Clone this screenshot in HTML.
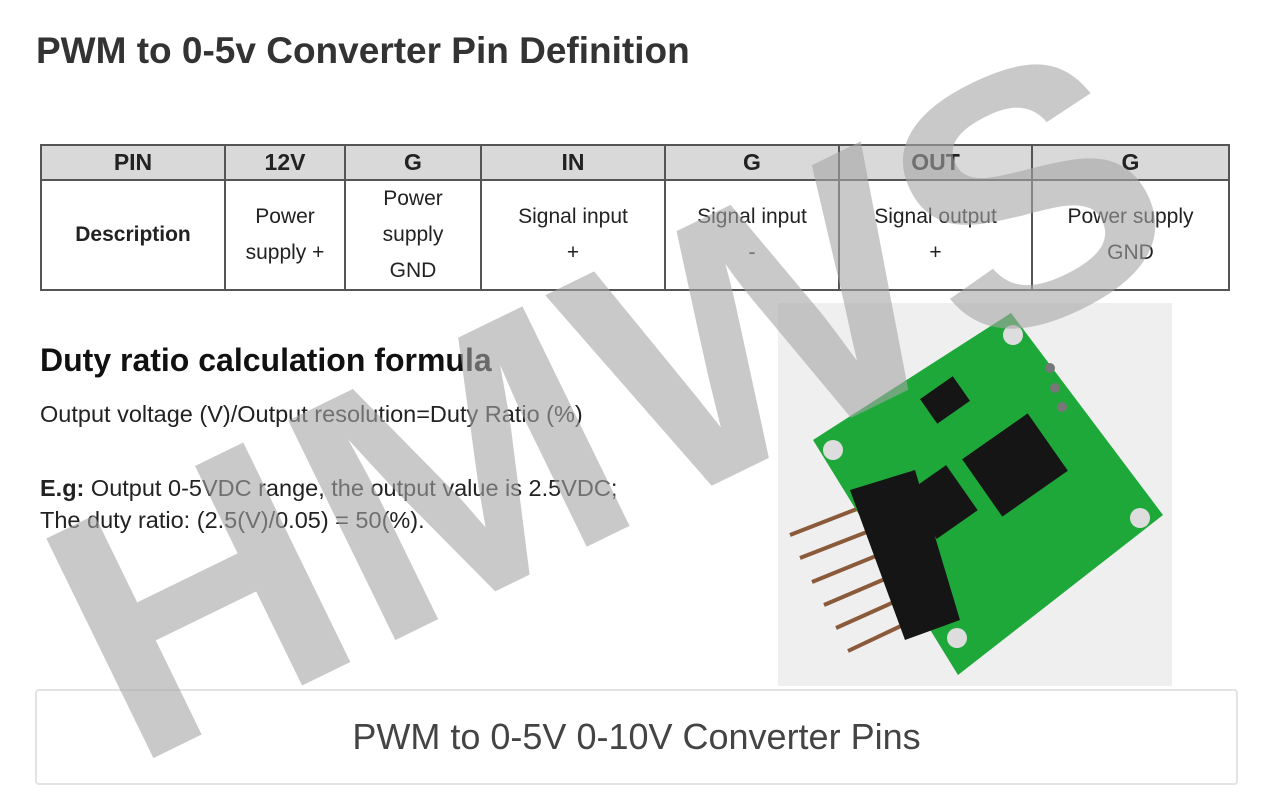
<!DOCTYPE html>
<html><head><meta charset="utf-8"><style>
body{margin:0;width:1269px;height:802px;background:#fff;position:relative;overflow:hidden;font-family:"Liberation Sans",sans-serif;}
.abs{position:absolute;}
h1{position:absolute;left:36px;top:30px;margin:0;font-size:37px;font-weight:bold;color:#333;}
table{position:absolute;left:40px;top:144px;border-collapse:collapse;width:1190px;}
td,th{border:2px solid #555;text-align:center;font-size:21px;color:#222;padding:0;}
th{background:#d9d9d9;height:33px;font-size:23px;}
td{height:104px;line-height:36px;}
</style></head><body>
<h1>PWM to 0-5v Converter Pin Definition</h1>
<table>
<tr><th style="width:182px">PIN</th><th style="width:118px">12V</th><th style="width:134px">G</th><th style="width:182px">IN</th><th style="width:172px">G</th><th style="width:191px">OUT</th><th>G</th></tr>
<tr><td style="font-weight:bold">Description</td><td>Power<br>supply +</td><td>Power<br>supply<br>GND</td><td>Signal input<br>+</td><td>Signal input<br>-</td><td>Signal output<br>+</td><td>Power supply<br>GND</td></tr>
</table>
<div class="abs" style="left:40px;top:342px;font-size:32px;font-weight:bold;color:#111">Duty ratio calculation formula</div>
<div class="abs" style="left:40px;top:401px;font-size:23.5px;color:#222">Output voltage (V)/Output resolution=Duty Ratio (%)</div>
<div class="abs" style="left:40px;top:472px;font-size:23.5px;color:#222;line-height:32px"><b>E.g:</b> Output 0-5VDC range, the output value is 2.5VDC;<br>The duty ratio: (2.5(V)/0.05) = 50(%).</div>
<svg class="abs" style="left:778px;top:303px" width="394" height="383" viewBox="778 303 394 383">
<rect x="778" y="303" width="394" height="383" fill="#efefef"/>
<g stroke="#8a5a3a" stroke-width="4">
<line x1="880" y1="500" x2="790" y2="535"/><line x1="890" y1="523" x2="800" y2="558"/><line x1="898" y1="547" x2="812" y2="582"/><line x1="906" y1="570" x2="824" y2="605"/><line x1="914" y1="593" x2="836" y2="628"/><line x1="922" y1="616" x2="848" y2="651"/>
</g>
<polygon points="1011,313 1163,515 958,675 813,440" fill="#1fa83a"/>
<polygon points="850,490 915,470 960,620 905,640" fill="#151515"/>
<rect x="975" y="430" width="80" height="70" fill="#151515" transform="rotate(-35 1015 465)"/>
<rect x="915" y="475" width="50" height="55" fill="#151515" transform="rotate(-35 940 500)"/>
<rect x="925" y="385" width="40" height="30" fill="#151515" transform="rotate(-35 945 400)"/>
<g fill="#ddd"><circle cx="1013" cy="335" r="10"/><circle cx="833" cy="450" r="10"/><circle cx="1140" cy="518" r="10"/><circle cx="957" cy="638" r="10"/></g>
<g fill="#777"><circle cx="1050" cy="368" r="5"/><circle cx="1055" cy="388" r="5"/><circle cx="1062" cy="407" r="5"/></g>
</svg>
<div class="abs" style="left:35px;top:689px;width:1199px;height:92px;border:2px solid #e3e3e3;border-radius:4px;text-align:center;line-height:92px;font-size:36px;color:#444">PWM to 0-5V 0-10V Converter Pins</div>
<svg class="abs" style="left:0;top:0" width="1269" height="802">
<text x="0" y="0" font-family="Liberation Sans" font-weight="bold" font-size="355" fill="rgba(165,165,165,0.6)" textLength="1180" lengthAdjust="spacingAndGlyphs" transform="translate(131,769) rotate(-26)">HMWS</text>
</svg>
</body></html>
